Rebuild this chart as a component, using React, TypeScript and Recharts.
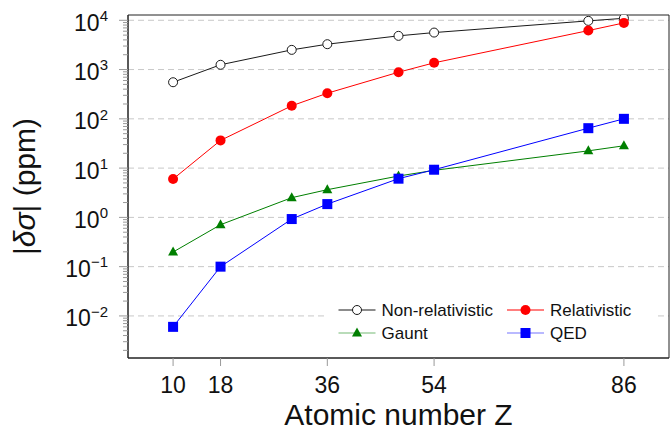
import { LineChart, Line, XAxis, YAxis, CartesianGrid, Legend, ReferenceArea, Label } from 'recharts';

const FONT = "'Liberation Sans', Arial, sans-serif";

// atomic numbers (Ne, Ar, Zn, Kr, Cd, Xe, Hg, Rn)
const atomicNumbers = [10, 18, 30, 36, 48, 54, 80, 86];
const nonRelativistic = [553, 1250, 2510, 3270, 4830, 5630, 9730, 10970];
const relativistic = [6.0, 36.5, 184, 331, 883, 1370, 6180, 8850];
const gaunt = [0.198, 0.71, 2.51, 3.65, 6.9, 9.0, 22.4, 28.4];
const qed = [0.006, 0.1, 0.925, 1.86, 6.1, 9.27, 64.6, 100];

const xTicks = [10, 18, 36, 54, 86];
const decadeExps = [-2, -1, 0, 1, 2, 3, 4];
const xDomain = [2.4, 93.6];
const yDomain = [0.0014, 12800];

const data = atomicNumbers.map((z, i) => ({
  z,
  nonrel: nonRelativistic[i],
  rel: relativistic[i],
  gaunt: gaunt[i],
  qed: qed[i],
}));

const decades = decadeExps.map((e) => Math.pow(10, e));

// major + minor ticks of the log axis
const yTicks: number[] = [];
for (let e = -3; e <= 4; e++) {
  for (let m = 1; m <= 9; m++) {
    const v = m * Math.pow(10, e);
    if (v >= yDomain[0] && v <= yDomain[1]) yTicks.push(v);
  }
}

const SERIES = [
  { key: 'nonrel', name: 'Non-relativistic', color: '#1a1a1a', marker: 'circle' },
  { key: 'rel', name: 'Relativistic', color: '#ff0000', marker: 'disc' },
  { key: 'gaunt', name: 'Gaunt', color: '#007f00', marker: 'triangle' },
  { key: 'qed', name: 'QED', color: '#0000ff', marker: 'square' },
];

function marker(kind: string, color: string, cx: number, cy: number, key?: string | number) {
  if (kind === 'circle')
    return <circle key={key} cx={cx} cy={cy} r={4.5} fill="#fff" stroke={color} strokeWidth={1} />;
  if (kind === 'disc') return <circle key={key} cx={cx} cy={cy} r={5} fill={color} stroke="none" />;
  if (kind === 'triangle')
    return (
      <polygon
        key={key}
        points={`${cx},${cy - 5.5} ${cx - 5},${cy + 3.5} ${cx + 5},${cy + 3.5}`}
        fill={color}
      />
    );
  return <rect key={key} x={cx - 5} y={cy - 5} width={10} height={10} fill={color} />;
}

function YTick(props: any) {
  const { x, y, payload } = props;
  const v = payload.value;
  const exp = Math.round(Math.log10(v));
  const isMajor = Math.abs(v - Math.pow(10, exp)) < 1e-9 * v;
  if (!isMajor) {
    return <line x1={x - 5} x2={x} y1={y} y2={y} stroke="#9a9a9a" strokeWidth={1} />;
  }
  const label = exp < 0 ? `\u2212${-exp}` : `${exp}`;
  return (
    <g>
      <line x1={x - 9} x2={x} y1={y} y2={y} stroke="#9a9a9a" strokeWidth={1} />
      <text x={x - 20} y={y + 10.4} textAnchor="end" fontSize={23} fontFamily={FONT} fill="#111">
        <tspan>10</tspan>
        <tspan dy={-9.7} fontSize={15}>
          {label}
        </tspan>
      </text>
    </g>
  );
}

function XTick(props: any) {
  const { x, y, payload } = props;
  return (
    <text x={x} y={y + 27} textAnchor="middle" fontSize={23} fontFamily={FONT} fill="#111">
      {payload.value}
    </text>
  );
}

function LegendBox() {
  const rows = [
    [SERIES[0], SERIES[1]],
    [SERIES[2], SERIES[3]],
  ];
  const cols = [13.5, 182];
  return (
    <svg width={330} height={50} style={{ display: 'block', background: '#fff' }}>
      {rows.map((row, r) =>
        row.map((s, c) => {
          const x0 = cols[c];
          const cy = 14 + r * 23;
          const faded = s.key === 'gaunt' || s.key === 'qed';
          return (
            <g key={s.key}>
              <line
                x1={x0}
                x2={x0 + 37}
                y1={cy}
                y2={cy}
                stroke={s.color}
                strokeOpacity={faded ? 0.55 : 1}
                strokeWidth={1.2}
              />
              {marker(s.marker, s.color, x0 + 18.5, cy)}
              <text x={x0 + 43} y={cy + 6} fontSize={17} fontFamily={FONT} fill="#111">
                {s.name}
              </text>
            </g>
          );
        })
      )}
    </svg>
  );
}

export default function App() {
  return (
    <div style={{ position: 'absolute', left: 0, top: 0, background: '#fff' }}>
      <LineChart width={670} height={431} data={data} margin={{ top: 15, right: 1, bottom: 0, left: 0 }}>
        <CartesianGrid
          vertical={false}
          horizontalValues={decades}
          stroke="#c8c8c8"
          strokeDasharray="6 4"
        />
        <XAxis
          dataKey="z"
          type="number"
          domain={xDomain}
          ticks={xTicks}
          allowDataOverflow
          height={73}
          tickSize={8}
          tickMargin={0}
          tickLine={{ stroke: '#9a9a9a' }}
          axisLine={{ stroke: '#222' }}
          tick={<XTick />}
        >
          <Label
            content={(p: any) => (
              <text
                x={p.viewBox.x + p.viewBox.width / 2}
                y={p.viewBox.y + 67}
                textAnchor="middle"
                fontSize={30}
                fontFamily={FONT}
                fill="#111"
              >
                Atomic number Z
              </text>
            )}
          />
        </XAxis>
        <YAxis
          type="number"
          scale="log"
          domain={yDomain}
          ticks={yTicks}
          allowDataOverflow
          width={128}
          tickSize={0}
          tickMargin={0}
          tickLine={false}
          axisLine={{ stroke: '#222' }}
          tick={<YTick />}
          interval={0}
        >
          <Label
            content={(p: any) => {
              const cx = p.viewBox.x + 35;
              const cy = p.viewBox.y + p.viewBox.height / 2;
              return (
                <text
                  x={cx}
                  y={cy}
                  transform={`rotate(-90 ${cx} ${cy})`}
                  textAnchor="middle"
                  fontSize={30}
                  fontFamily={FONT}
                  fill="#111"
                >
                  |<tspan fontStyle="italic">δσ</tspan>| (ppm)
                </text>
              );
            }}
          />
        </YAxis>
        <ReferenceArea
          x1={xDomain[0]}
          x2={xDomain[1]}
          y1={yDomain[0]}
          y2={yDomain[1]}
          fill="none"
          stroke="#222"
          strokeWidth={1}
        />
        {SERIES.map((s) => (
          <Line
            key={s.key}
            dataKey={s.key}
            name={s.name}
            stroke={s.color}
            strokeWidth={1}
            isAnimationActive={false}
            dot={(p: any) => marker(s.marker, s.color, p.cx, p.cy, `${s.key}-${p.index}`)}
            activeDot={false}
          />
        ))}
        <Legend
          layout="horizontal"
          verticalAlign="middle"
          align="center"
          wrapperStyle={{ left: 325, top: 296, width: 330, height: 50 }}
          content={() => <LegendBox />}
        />
      </LineChart>
    </div>
  );
}
